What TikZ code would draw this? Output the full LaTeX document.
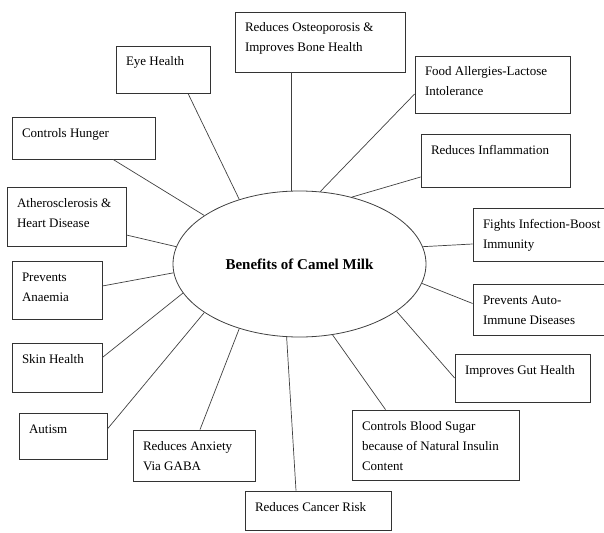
\documentclass[tikz,border=0pt]{standalone}
\usepackage{fontspec}
\setmainfont{Liberation Serif}
\usepackage{tikz}
\usetikzlibrary{shapes.geometric}
\tikzset{
    hub/.style = {ellipse, draw=black!75, line width=0.8pt, minimum width=253pt, minimum height=146pt, font=\fontsize{15}{18}\selectfont\bfseries},
    benefit/.style = {rectangle, draw=black!80, line width=0.8pt, inner xsep=10pt, inner ysep=6pt, font=\fontsize{13}{20}\selectfont},
    link/.style = {line width=0.7pt, black!75}
}
\newcommand{\boxtext}[3]{\parbox[c][#2pt][t]{#1pt}{\raggedright\strut #3}}

\begin{document}
\begin{tikzpicture}[x=1pt, y=-1pt]
	\useasboundingbox (0, 0) rectangle (604, 532);

	\node[hub](milk) at (299.5, 264){Benefits of Camel Milk};

	\node[benefit](osteo) at (320, 42){\boxtext{150}{48}{Reduces Osteoporosis \&\\Improves Bone Health}};
	\node[benefit](eye) at (163, 69.5){\boxtext{74}{35}{Eye Health}};
	\node[benefit](food) at (492.5, 84.5){\boxtext{135}{45}{Food Allergies-Lactose\\Intolerance}};
	\node[benefit](hunger) at (83.5, 138){\boxtext{123}{30}{Controls Hunger}};
	\node[benefit](infl) at (495.5, 160.5){\boxtext{129}{41}{Reduces Inflammation}};
	\node[benefit](athero) at (66.5, 216.5){\boxtext{99}{47}{Atherosclerosis \&\\Heart Disease}};
	\node[benefit](fights) at (543, 234.5){\boxtext{120}{41}{Fights Infection-Boost\\Immunity}};
	\node[benefit](anaemia) at (57, 290){\boxtext{70}{46}{Prevents\\Anaemia}};
	\node[benefit](auto) at (543, 309.5){\boxtext{120}{39}{Prevents Auto-\\Immune Diseases}};
	\node[benefit](skin) at (57, 367.5){\boxtext{70}{37}{Skin Health}};
	\node[benefit](gut) at (522.5, 378){\boxtext{115}{36}{Improves Gut Health}};
	\node[benefit](autism) at (63, 436){\boxtext{68}{34}{Autism}};
	\node[benefit](anxiety) at (194, 455.5){\boxtext{102}{39}{Reduces Anxiety\\Via GABA}};
	\node[benefit](sugar) at (435.5, 445){\boxtext{147}{58}{Controls Blood Sugar\\because of Natural Insulin\\Content}};
	\node[benefit](cancer) at (318, 510.5){\boxtext{126}{27}{Reduces Cancer Risk}};

	\draw[link] (milk.96) -- (milk.96 |- osteo.south);
	\draw[link] ([xshift=25pt]eye.south) -- (milk.133);
	\draw[link] ([yshift=-9.5pt]food.west) -- (milk.74);
	\draw[link] ([xshift=29.5pt]hunger.south) -- (milk.153);
	\draw[link] ([yshift=-16.5pt]infl.west) -- (milk.52);
	\draw[link] ([yshift=-18.5pt]athero.east) -- (milk.172);
	\draw[link] ([yshift=-9.5pt]fights.west) -- (milk.8);
	\draw[link] ([yshift=4pt]anaemia.east) -- (milk.184);
	\draw[link] ([yshift=6pt]auto.west) -- (milk.-9);
	\draw[link] ([yshift=10pt]skin.east) -- (milk.194);
	\draw[link] (gut.west) -- (milk.-26);
	\draw[link] ([yshift=7pt]autism.east) -- (milk.207);
	\draw[link] ([xshift=6pt]anxiety.north) -- (milk.-133);
	\draw[link] ([xshift=-50pt]sugar.north) -- (milk.-65);
	\draw[link] ([xshift=-22pt]cancer.north) -- (milk.-100);
\end{tikzpicture}
\end{document}
